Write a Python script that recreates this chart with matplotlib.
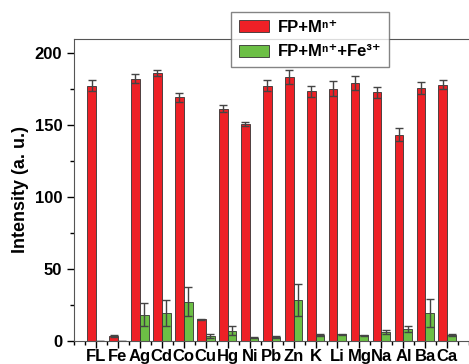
import numpy as np
import matplotlib
matplotlib.use("Agg")
import matplotlib.pyplot as plt
from matplotlib.ticker import MultipleLocator

plt.rcParams['font.family'] = ['Liberation Sans', 'DejaVu Sans']
plt.rcParams['font.weight'] = 'bold'

ions = ["FL", "Fe", "Ag", "Cd", "Co", "Cu", "Hg", "Ni", "Pb", "Zn",
        "K", "Li", "Mg", "Na", "Al", "Ba", "Ca"]
fp_m = [177.5, 3.5, 182.5, 186.5, 169.5, 15, 161.5, 151, 177.5, 183.5,
        173.5, 175.5, 179.5, 172.8, 143.5, 175.8, 178.2]
fp_m_err = [4, 1, 3, 2, 3, 0.5, 2.5, 1.5, 4, 5, 4, 5, 5, 4, 4.5, 4, 3]
fp_m_fe = [0, 0, 18.1, 19.5, 27.2, 3.5, 7.2, 2.3, 2.8, 28.6,
           4.2, 4.6, 3.9, 6.3, 8.6, 19.5, 4.4]
fp_m_fe_err = [0, 0, 8, 9, 10, 1.5, 3, 0.5, 0.5, 11,
               0.5, 0.3, 0.3, 1.5, 2, 10, 0.7]

fig = plt.figure(figsize=(4.69, 3.64), dpi=100)
ax = fig.add_axes([0.1578, 0.0632, 0.86, 0.8298])

x = np.arange(1, len(ions) + 1)
w = 0.4
ekw = dict(ecolor="#444444", elinewidth=1, capsize=3, capthick=1)
ax.bar(x - w / 2, fp_m, w, yerr=fp_m_err, color="#ee2026", edgecolor="#333333",
       linewidth=0.6, error_kw=ekw, label="FP+M\u207f\u207a")
ax.bar(x + w / 2, fp_m_fe, w, yerr=fp_m_fe_err, color="#6cbf45", edgecolor="#333333",
       linewidth=0.6, error_kw=ekw, label="FP+M\u207f\u207a+Fe\u00b3\u207a")

ax.set_xlim(0, 18.37)
ax.set_ylim(0, 210)
ax.set_xticks(x)
ax.set_xticklabels(ions)
ax.xaxis.set_minor_locator(MultipleLocator(0.5))
ax.yaxis.set_major_locator(MultipleLocator(50))
ax.yaxis.set_minor_locator(MultipleLocator(25))
ax.tick_params(direction="out", which="both", labelsize=12, width=1)
ax.tick_params(which="major", length=5)
ax.tick_params(which="minor", length=3)
ax.tick_params(axis="x", pad=1)
for s in ax.spines.values():
    s.set_color("#555555")
ax.set_ylabel("Intensity (a. u.)", fontsize=13, fontweight="bold")

leg = ax.legend(loc="upper left", bbox_to_anchor=(231 / 469, 1 - 12 / 364),
                bbox_transform=fig.transFigure, fontsize=12, frameon=True,
                fancybox=False, edgecolor="#666666", handlelength=1.85,
                handleheight=0.75, handletextpad=0.5, borderpad=0.45,
                borderaxespad=0, labelspacing=0.6)
leg.get_frame().set_linewidth(1)

fig.savefig("out.png", dpi=100)
